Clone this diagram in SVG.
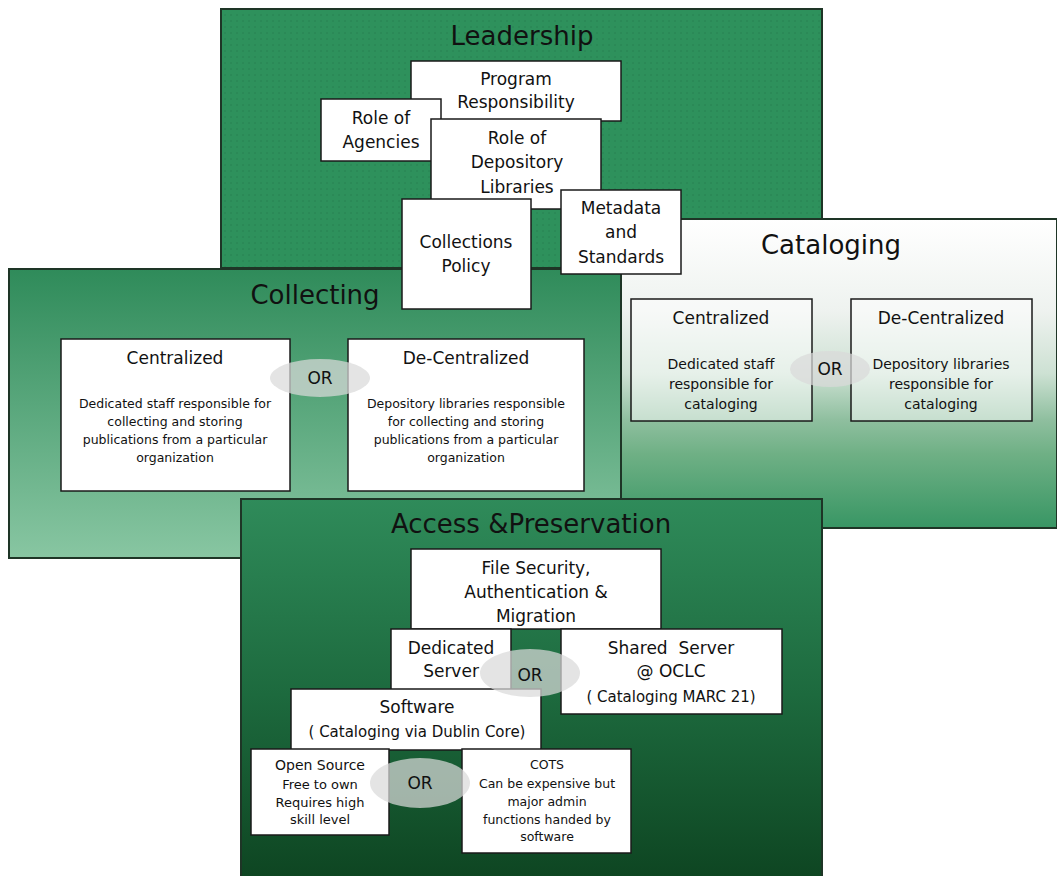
<svg xmlns="http://www.w3.org/2000/svg" width="1057" height="876" viewBox="0 0 1057 876">
<defs>
<style>
text{font-family:"DejaVu Sans","Liberation Sans",sans-serif;fill:#111;text-anchor:middle}
.panel{stroke:#1e3526;stroke-width:2}
.box{fill:#fff;stroke:#1a1a1a;stroke-width:1.5}
.cbox{fill:#ffffff;fill-opacity:0.5;stroke:#1a1a1a;stroke-width:1.5}
.title{font-size:26px}
.lbl{font-size:17px}
.sm{font-size:12.5px}
.or{fill:#d9d9d9;fill-opacity:0.72}
.ort{font-size:17px}
</style>
<pattern id="dots" width="6" height="6" patternUnits="userSpaceOnUse">
<rect width="6" height="6" fill="#2e915c"/>
<circle cx="3" cy="3" r="0.9" fill="#267f4f" fill-opacity="0.6"/>
</pattern>
<linearGradient id="gCol" x1="0" y1="0" x2="0" y2="1">
<stop offset="0" stop-color="#2f8b5a"/>
<stop offset="1" stop-color="#88c6a2"/>
</linearGradient>
<linearGradient id="gCat" x1="0" y1="0" x2="0" y2="1">
<stop offset="0" stop-color="#ffffff"/>
<stop offset="0.3" stop-color="#eef2ef"/>
<stop offset="0.5" stop-color="#cde1d3"/>
<stop offset="0.65" stop-color="#8fbf9f"/>
<stop offset="0.76" stop-color="#6fb085"/>
<stop offset="1" stop-color="#389664"/>
</linearGradient>
<linearGradient id="gAcc" x1="0" y1="0" x2="0" y2="1">
<stop offset="0" stop-color="#2f8b5a"/>
<stop offset="0.5" stop-color="#1d6a3e"/>
<stop offset="1" stop-color="#0d4320"/>
</linearGradient>
</defs>

<g id="leadership-panel">
<rect class="panel" x="221" y="9" width="601" height="259" fill="url(#dots)"/>
<text class="title" x="522" y="45">Leadership</text>
</g>

<g id="cataloging-panel">
<rect class="panel" x="621" y="219" width="436" height="309" fill="url(#gCat)"/>
<text class="title" x="831" y="254">Cataloging</text>
</g>
<g id="cat-centralized">
<rect class="cbox" x="631" y="299" width="181" height="122"/>
<text class="lbl" x="721" y="324">Centralized</text>
<text x="721" y="369" font-size="14">Dedicated staff</text>
<text x="721" y="389" font-size="14">responsible for</text>
<text x="721" y="409" font-size="14">cataloging</text>
</g>
<g id="cat-decentralized">
<rect class="cbox" x="851" y="299" width="181" height="122"/>
<text class="lbl" x="941" y="324">De-Centralized</text>
<text x="941" y="369" font-size="14">Depository libraries</text>
<text x="941" y="389" font-size="14">responsible for</text>
<text x="941" y="409" font-size="14">cataloging</text>
</g>
<g id="cat-or">
<ellipse class="or" cx="830" cy="369" rx="40" ry="18"/>
<text class="ort" x="830" y="375">OR</text>
</g>

<g id="collecting-panel">
<rect class="panel" x="9" y="269" width="612" height="289" fill="url(#gCol)"/>
<text class="title" x="315" y="304">Collecting</text>
</g>
<g id="col-centralized">
<rect class="box" x="61" y="339" width="229" height="152"/>
<text class="lbl" x="175" y="364">Centralized</text>
<text class="sm" x="175" y="408">Dedicated staff responsible for</text>
<text class="sm" x="175" y="426">collecting and storing</text>
<text class="sm" x="175" y="444">publications from a particular</text>
<text class="sm" x="175" y="462">organization</text>
</g>
<g id="col-decentralized">
<rect class="box" x="348" y="339" width="236" height="152"/>
<text class="lbl" x="466" y="364">De-Centralized</text>
<text class="sm" x="466" y="408">Depository libraries responsible</text>
<text class="sm" x="466" y="426">for collecting and storing</text>
<text class="sm" x="466" y="444">publications from a particular</text>
<text class="sm" x="466" y="462">organization</text>
</g>
<g id="col-or">
<ellipse class="or" cx="320" cy="378" rx="50" ry="19"/>
<text class="ort" x="320" y="384">OR</text>
</g>

<g id="program-responsibility">
<rect class="box" x="411" y="61" width="210" height="60"/>
<text class="lbl" x="516" y="85">Program</text>
<text class="lbl" x="516" y="108">Responsibility</text>
</g>
<g id="role-of-agencies">
<rect class="box" x="321" y="99" width="120" height="62"/>
<text class="lbl" x="381" y="124">Role of</text>
<text class="lbl" x="381" y="148">Agencies</text>
</g>
<g id="role-of-depository-libraries">
<rect class="box" x="431" y="119" width="170" height="90"/>
<text class="lbl" x="517" y="144">Role of</text>
<text class="lbl" x="517" y="168">Depository</text>
<text class="lbl" x="517" y="193">Libraries</text>
</g>
<g id="collections-policy">
<rect class="box" x="402" y="199" width="129" height="110"/>
<text class="lbl" x="466" y="248">Collections</text>
<text class="lbl" x="466" y="272">Policy</text>
</g>
<g id="metadata-standards">
<rect class="box" x="561" y="190" width="120" height="84"/>
<text class="lbl" x="621" y="214">Metadata</text>
<text class="lbl" x="621" y="238">and</text>
<text class="lbl" x="621" y="263">Standards</text>
</g>

<g id="access-panel">
<rect class="panel" x="241" y="499" width="581" height="390" fill="url(#gAcc)"/>
<text class="title" x="531" y="533">Access &amp;Preservation</text>
</g>
<g id="file-security">
<rect class="box" x="411" y="549" width="250" height="80"/>
<text class="lbl" x="536" y="574">File Security,</text>
<text class="lbl" x="536" y="598">Authentication &amp;</text>
<text class="lbl" x="536" y="622">Migration</text>
</g>
<g id="dedicated-server">
<rect class="box" x="391" y="629" width="120" height="70"/>
<text class="lbl" x="451" y="654">Dedicated</text>
<text class="lbl" x="451" y="677">Server</text>
</g>
<g id="shared-server">
<rect class="box" x="561" y="629" width="221" height="85"/>
<text class="lbl" x="671" y="654" xml:space="preserve">Shared  Server</text>
<text class="lbl" x="671" y="677">@ OCLC</text>
<text x="671" y="702" font-size="15">( Cataloging MARC 21)</text>
</g>
<g id="software">
<rect class="box" x="291" y="689" width="250" height="61"/>
<text class="lbl" x="417" y="713">Software</text>
<text x="417" y="737" font-size="15">( Cataloging via Dublin Core)</text>
</g>
<g id="open-source">
<rect class="box" x="251" y="749" width="138" height="86"/>
<text x="320" y="770" font-size="14">Open Source</text>
<text x="320" y="789" font-size="13">Free to own</text>
<text x="320" y="807" font-size="13">Requires high</text>
<text x="320" y="824" font-size="13">skill level</text>
</g>
<g id="cots">
<rect class="box" x="462" y="749" width="169" height="104"/>
<text class="sm" x="547" y="769">COTS</text>
<text class="sm" x="547" y="788">Can be expensive but</text>
<text class="sm" x="547" y="806">major admin</text>
<text class="sm" x="547" y="824">functions handed by</text>
<text class="sm" x="547" y="841">software</text>
</g>
<g id="server-or">
<ellipse class="or" cx="530" cy="673" rx="50" ry="24"/>
<text class="ort" x="530" y="681">OR</text>
</g>
<g id="software-or">
<ellipse class="or" cx="420" cy="783" rx="50" ry="25"/>
<text class="ort" x="420" y="789">OR</text>
</g>
<g id="connectors"/>
</svg>
